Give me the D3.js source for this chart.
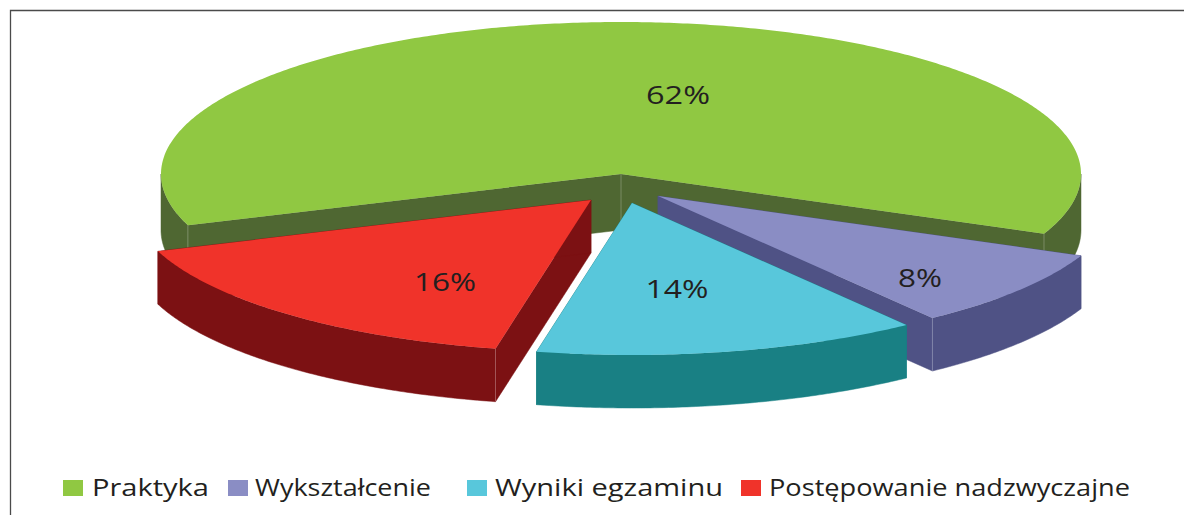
<!DOCTYPE html>
<html>
<head>
<meta charset="utf-8">
<script src="https://cdn.jsdelivr.net/npm/d3@7"></script>
<style>
html, body { margin: 0; padding: 0; background: #fff; overflow: hidden; }
text { font-family: "Open Sans", sans-serif; fill: #231f20; }
</style>
</head>
<body>
<div class="mainContainer"></div>
<script>
var categories = ['Praktyka', 'Wykształcenie', 'Wyniki egzaminu', 'Postępowanie nadzwyczajne'];
var values = [61.9, 8.4, 13.5, 16.2];
var percentLabels = ['62%', '8%', '14%', '16%'];

var topColors = ['#90c842', '#8a8dc4', '#58c7db', '#f0332a'];
var sideColors = ['#4f6732', '#4f5285', '#198084', '#7c1113'];

// layout
var width = 1184, height = 515;
var cx = 621, cy = 174, rx = 460, ry = 152;
var depths = [56, 53, 53, 53];
var startDeg = 250.3;
var explode = [[0, 0], [37, 22], [11, 29], [-30, 26]];
var drawOrder = [0, 1, 3, 2];
var labelPos = [[678, 94], [920, 277], [677, 288], [445, 281]];
var labelWidth = [64, 44, 63, 62];
var legendSquare = [63, 228, 467, 741];
var legendText = [[92, 117], [255, 176], [495, 228], [769, 361]];

var svg = d3.select('.mainContainer').append('svg').attr('width', width).attr('height', height);

// frame
svg.append('path')
	.attr('d', 'M10.5,' + height + 'V10.5H' + width)
	.style('fill', 'none').style('stroke', '#4a4a4a').style('stroke-width', 1.3);

var x = d3.scaleLinear().domain([-1, 1]).range([cx - rx, cx + rx]);
var y = d3.scaleLinear().domain([-1, 1]).range([cy - ry, cy + ry]);

var pie = d3.pie().sort(null)
	.startAngle(startDeg * Math.PI / 180)
	.endAngle((startDeg + 360) * Math.PI / 180);
var arcs = pie(values);

function rim(a) {
	return [x(Math.sin(a)), y(-Math.cos(a))];
}
function sample(a0, a1) {
	var pts = d3.range(a0, a1, 0.01).map(rim);
	pts.push(rim(a1));
	return pts;
}
function down(pts, depth) {
	return pts.slice().reverse().map(function(p) { return [p[0], p[1] + depth]; });
}
var line = d3.line();
var centre = [x(0), y(0)];

drawOrder.forEach(function(i) {
	var d = arcs[i];
	var depth = depths[i];
	var g = svg.append('g').attr('transform', 'translate(' + explode[i][0] + ',' + explode[i][1] + ')');

	// cut faces from the middle out to the rim
	[d.startAngle, d.endAngle].forEach(function(a) {
		var face = [centre, rim(a)];
		g.append('path').attr('d', line(face.concat(down(face, depth))) + 'Z')
			.style('fill', sideColors[i]).style('stroke', sideColors[i]).style('stroke-width', 0.5);
	});

	// outer wall, only the front half of the ellipse shows
	[0, 2 * Math.PI].forEach(function(turn) {
		var a0 = Math.max(d.startAngle, Math.PI / 2 + turn);
		var a1 = Math.min(d.endAngle, 3 * Math.PI / 2 + turn);
		if (a0 >= a1) return;
		var pts = sample(a0, a1);
		g.append('path').attr('d', line(pts.concat(down(pts, depth))) + 'Z')
			.style('fill', sideColors[i]).style('stroke', sideColors[i]).style('stroke-width', 0.5);
	});

	// thin seams on the wall corners
	var seams = [centre, rim(d.startAngle), rim(d.endAngle)];
	seams.forEach(function(p, k) {
		if (i == 2 || (k == 0 && i != 0) || (i == 1 && k == 1) || (i == 3 && k == 2)) return;
		g.append('line')
			.attr('x1', p[0]).attr('y1', p[1]).attr('x2', p[0]).attr('y2', p[1] + depth)
			.style('stroke', '#fff').style('stroke-opacity', 0.25).style('stroke-width', 1);
	});

	// top face
	g.append('path').attr('d', line([centre].concat(sample(d.startAngle, d.endAngle))) + 'Z')
		.style('fill', topColors[i]);
});

percentLabels.forEach(function(t, i) {
	svg.append('text')
		.attr('x', labelPos[i][0]).attr('y', labelPos[i][1])
		.attr('text-anchor', 'middle').attr('dominant-baseline', 'central')
		.attr('textLength', labelWidth[i]).attr('lengthAdjust', 'spacingAndGlyphs')
		.style('font-size', '25px')
		.text(t);
});

categories.forEach(function(t, i) {
	svg.append('rect')
		.attr('x', legendSquare[i]).attr('y', 480).attr('width', 20).attr('height', 16)
		.style('fill', topColors[i]);
	svg.append('text')
		.attr('x', legendText[i][0]).attr('y', 496)
		.attr('textLength', legendText[i][1]).attr('lengthAdjust', 'spacingAndGlyphs')
		.style('font-size', '23px')
		.text(t);
});
</script>
</body>
</html>
